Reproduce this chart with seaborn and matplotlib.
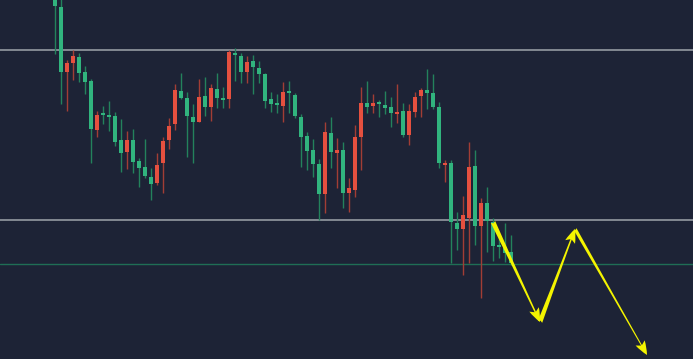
import numpy as np
import pandas as pd
import seaborn as sns
import matplotlib
matplotlib.use("Agg")
import matplotlib.pyplot as plt

# Price levels (inverted price scale, higher value = lower on screen)
opens = [-5, 7, 72, 63, 57, 72, 81, 130, 114, 116, 116, 140, 152, 140, 161, 167, 177, 183, 163, 140,
         124, 91, 98, 117, 122, 96, 107, 89, 99, 99, 53, 56, 72, 61, 68, 74, 99, 104, 106, 91,
         95, 117, 136, 150, 164, 194, 133, 153, 150, 193, 190, 137, 103, 106, 103, 105, 107, 114, 111, 135,
         112, 96, 90, 93, 107, 165, 163, 223, 229, 218, 166, 226, 203, 222, 246, 247, 252]
closes = [6, 72, 63, 56, 73, 82, 129, 115, 114, 116, 142, 153, 140, 162, 168, 176, 184, 165, 141, 126,
          90, 98, 116, 122, 97, 107, 88, 98, 99, 52, 55, 72, 62, 67, 74, 101, 104, 104, 92, 93,
          116, 137, 151, 164, 194, 132, 152, 150, 193, 188, 137, 103, 107, 103, 103, 108, 113, 112, 135, 111,
          97, 90, 93, 107, 163, 163, 222, 229, 215, 167, 226, 203, 221, 246, 246, 253, 263]
wick_lo = [-10, -5, 60, 50, 53, 66, 79, 111, 106, 101, 112, 119, 131, 129, 158, 139, 168, 153, 137, 118,
           84, 73, 92, 104, 79, 77, 84, 73, 87, 50, 48, 53, 56, 55, 61, 73, 92, 94, 82, 81,
           93, 114, 132, 139, 159, 122, 117, 138, 142, 178, 125, 87, 81, 94, 100, 91, 97, 84, 103, 104,
           92, 88, 69, 74, 102, 160, 160, 212, 196, 142, 150, 198, 187, 218, 235, 223, 235]
wick_hi = [54, 104, 111, 80, 82, 94, 163, 137, 124, 131, 146, 172, 169, 173, 187, 178, 200, 185, 193, 149,
           130, 99, 157, 163, 122, 116, 121, 108, 108, 108, 81, 83, 83, 94, 83, 108, 112, 113, 122, 113,
           118, 167, 170, 177, 220, 213, 168, 188, 208, 212, 197, 170, 113, 113, 117, 114, 127, 123, 137, 145,
           117, 117, 109, 109, 168, 182, 263, 250, 275, 263, 245, 298, 252, 261, 258, 262, 265]

levels_grey = [49.5, 220]
level_green = 264

# projected path (candle index, price)
path_x = [73.0, 80.83, 86.67, 98.67]
path_y = [222, 322, 229, 355]
tail_w = [0.34, 0.34, 0.24]

bg = "#1d2336"
up_col, up_wick = "#31b47e", "#23825c"
dn_col, dn_wick = "#e5503f", "#a23d35"
yellow = "#f4f400"

df = pd.DataFrame({"open": opens, "close": closes, "lo": wick_lo, "hi": wick_hi})
df["idx"] = np.arange(len(df))
df["up"] = df["close"] >= df["open"]

sns.set_theme(style="dark", rc={"axes.facecolor": bg, "figure.facecolor": bg})

fig = plt.figure(figsize=(6.93, 3.59), dpi=100)
ax = fig.add_axes([0, 0, 1, 1])

for lv in levels_grey:
    ax.axhline(lv, color="#959aa1", lw=1.2, zorder=1)
ax.axhline(level_green, color="#1f6e55", lw=1.0, zorder=1)

# wicks
ax.vlines(df["idx"], df["lo"], df["hi"],
          colors=np.where(df["up"], up_wick, dn_wick), lw=1.0, zorder=2)

# bodies
body_bot = df[["open", "close"]].min(axis=1)
body_h = (df["close"] - df["open"]).abs().clip(lower=1.3)
ax.bar(df["idx"], body_h, bottom=body_bot - np.where(body_h == 1.3, 0.65, 0), width=0.83,
       color=np.where(df["up"], up_col, dn_col), linewidth=0, zorder=3)

# projection arrows
for k in range(len(path_x) - 1):
    style = f"fancy,head_length=1.0,head_width=0.75,tail_width={tail_w[k]}"
    ax.annotate("", xy=(path_x[k + 1], path_y[k + 1]), xytext=(path_x[k], path_y[k]),
                arrowprops=dict(arrowstyle=style, color=yellow, shrinkA=0, shrinkB=0,
                                mutation_scale=10, lw=0),
                zorder=5)

ax.set_xlim(-55 / 6, 638 / 6)
ax.set_ylim(359, 0)
ax.axis("off")

fig.savefig("out.png", dpi=100, facecolor=bg)
